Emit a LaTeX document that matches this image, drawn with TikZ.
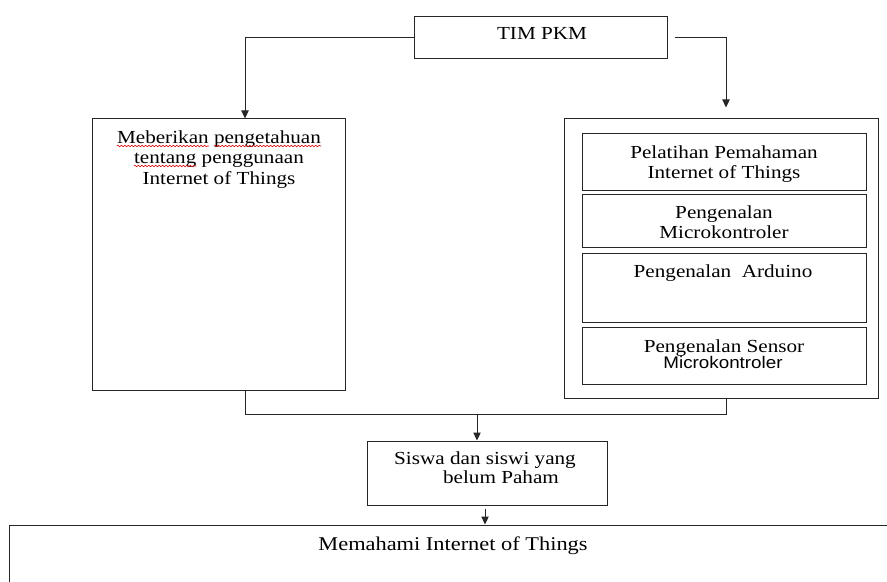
\documentclass[tikz,border=0pt]{standalone}
\usepackage{fontspec}
\setmainfont{Liberation Serif}[FakeStretch=1.15]
\newfontfamily\sansf{Liberation Sans}[FakeStretch=1.12]
\usetikzlibrary{fit,calc,arrows.meta,decorations.pathmorphing}
\begin{document}
\begin{tikzpicture}[x=0.75pt,y=-0.75pt,
  box/.style={draw=black!85, line width=0.75pt, inner sep=0pt},
  txt/.style={anchor=base, inner sep=0pt, font=\fontsize{13.8}{16}\selectfont, text=black},
  wire/.style={draw=black!85, line width=0.75pt},
  arr/.style={wire, -{Triangle[length=6pt,width=5.5pt]}},
  spell/.style={draw=red!85!black, line width=0.45pt, decorate,
    decoration={snake, segment length=2.6pt, amplitude=0.55pt}}]
\path[clip] (0,0) rectangle (887,581);
\fill[white] (0,0) rectangle (887,581);

% top box
\node[box, fit={(414,17) (667,59)}] (tim) {};
\node[txt] (timt) at (542,40) {TIM PKM};

% left box
\node[box, fit={(92,119) (345,390)}] (left) {};
\node[txt] (l1) at (219,143) {Meberikan pengetahuan};
\node[txt] (l2) at (219,163) {tentang penggunaan};
\node[txt] (l3) at (219,184) {Internet of Things};
\draw[spell] ($(l1.base west)+(0,3)$) -- ($(l1.base west)!0.45!(l1.base east)+(0,3)$);
\draw[spell] ($(l1.base west)!0.476!(l1.base east)+(0,3)$) -- ($(l1.base east)+(0,3)$);
\draw[spell] ($(l2.base west)+(0,3)$) -- ($(l2.base west)!0.367!(l2.base east)+(0,3)$);

% right box with inner boxes
\node[box, fit={(564,119) (878,398)}] (right) {};
\node[box, fit={(582,134) (866,190)}] (b1) {};
\node[box, fit={(582,194) (866,247)}] (b2) {};
\node[box, fit={(582,253) (866,322)}] (b3) {};
\node[box, fit={(582,327) (866,384)}] (b4) {};
\node[txt] (b1a) at (724,158) {Pelatihan Pemahaman};
\node[txt] (b1b) at (724,178) {Internet of Things};
\node[txt] (b2a) at (724,218) {Pengenalan};
\node[txt] (b2b) at (724,238) {Microkontroler};
\node[txt] (b3a) at (723,277) {Pengenalan\ \ Arduino};
\node[txt] (b4a) at (724,352) {Pengenalan Sensor};
\node[txt, font=\sansf\fontsize{12.6}{14}\selectfont] (b4b) at (723,368) {Microkontroler};

% middle box
\node[box, fit={(367,441) (607,505)}] (siswa) {};
\node[txt] (s1) at (485,464) {Siswa dan siswi yang};
\node[txt] (s2) at (501,483) {belum Paham};

% bottom box
\node[box, fit={(9,525) (900,600)}] (hasil) {};
\node[txt, font=\fontsize{14.6}{17}\selectfont] (ht) at (453,550) {Memahami Internet of Things};

% connectors
\coordinate (lin) at (245,0);
\coordinate (rin) at (726,0);
\coordinate (jn) at (0,414);
\coordinate (mj) at (477,414);
\coordinate (bj) at (485,0);
\draw[arr] (tim.west) -| (lin |- left.north);
\draw[arr, shorten >=8.25pt] ([xshift=5.25pt]tim.east) -| (rin |- right.north);
\draw[wire] (lin |- left.south) -- (lin |- jn) -- (rin |- jn) -- (rin |- right.south);
\draw[arr] (mj) -- (mj |- siswa.north);
\draw[arr, shorten <=2.25pt] (bj |- siswa.south) -- (bj |- hasil.north);
\end{tikzpicture}
\end{document}
